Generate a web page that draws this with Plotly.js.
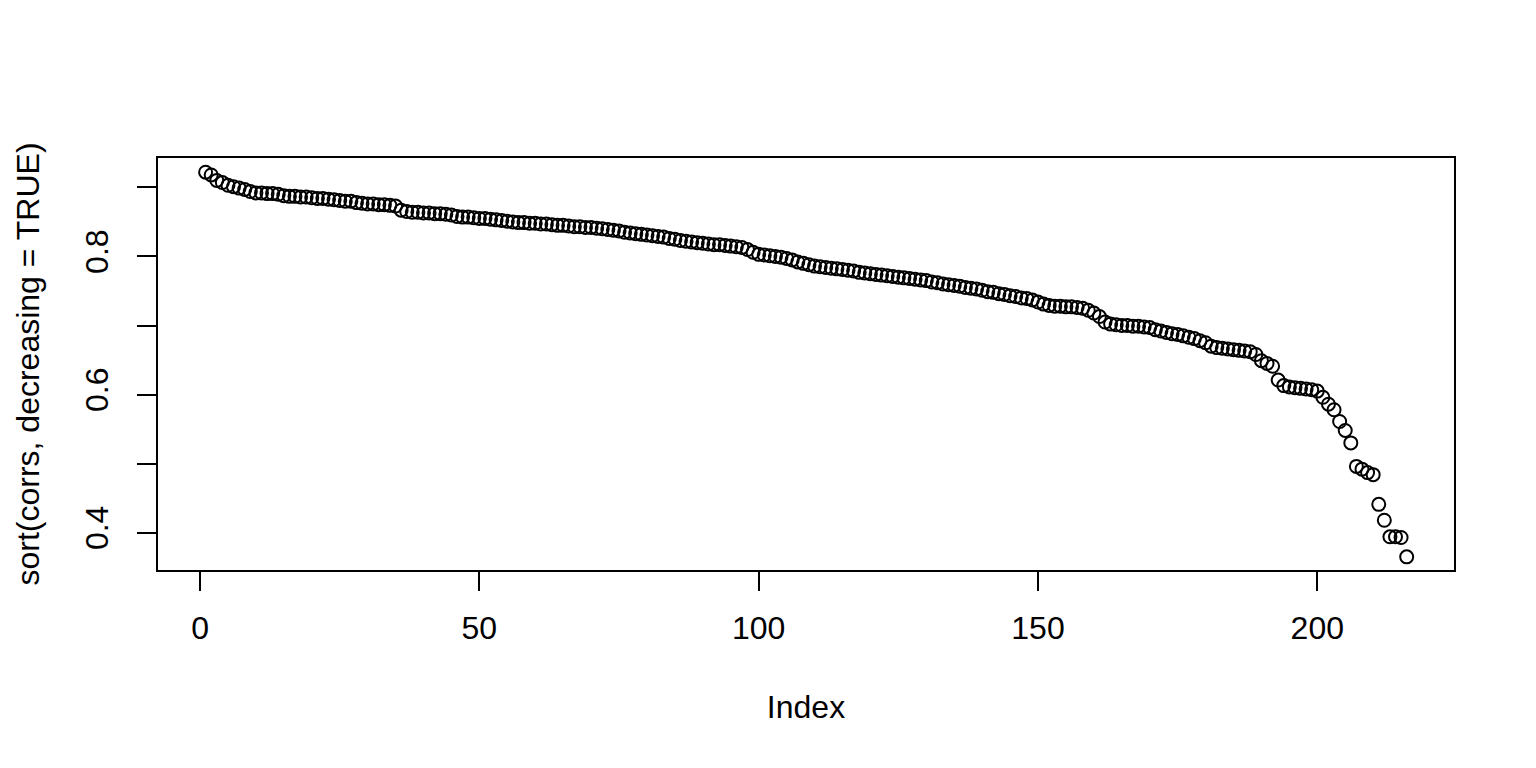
<!DOCTYPE html>
<html>
<head>
<meta charset="utf-8">
<script src="https://cdn.plot.ly/plotly-3.0.1.min.js"></script>
<style>html,body{margin:0;padding:0;background:#fff;}#chart{width:1536px;height:768px;}</style>
</head>
<body>
<div id="chart"></div>
<script>
// sorted correlations (decreasing)
const corrs = [
  0.922, 0.918, 0.910, 0.907, 0.903, 0.901, 0.899, 0.897, 0.894,
  0.892, 0.892, 0.891, 0.891, 0.890,
  0.888, 0.887, 0.887, 0.886, 0.886, 0.885,
  0.884, 0.884, 0.883, 0.882, 0.881, 0.880, 0.880,
  0.878, 0.877, 0.876, 0.876, 0.875, 0.875, 0.874, 0.873,
  0.867,
  0.865, 0.864, 0.864, 0.863, 0.863, 0.862, 0.862, 0.861, 0.860,
  0.858, 0.857, 0.857, 0.856, 0.855, 0.855, 0.854, 0.853, 0.852, 0.851,
  0.850, 0.849, 0.849, 0.848, 0.848, 0.847, 0.847, 0.846, 0.845, 0.845,
  0.844, 0.843, 0.843, 0.842, 0.842, 0.841, 0.840, 0.839, 0.838, 0.837,
  0.835, 0.834, 0.833, 0.832, 0.831, 0.830, 0.829, 0.828, 0.826, 0.825,
  0.823, 0.822, 0.821, 0.820, 0.819, 0.818, 0.817, 0.817, 0.816, 0.815, 0.814, 0.813,
  0.810, 0.806, 0.803,
  0.802, 0.801, 0.800, 0.799, 0.797,
  0.795, 0.792, 0.790, 0.788, 0.786,
  0.785, 0.784, 0.783, 0.782, 0.781, 0.780, 0.779,
  0.777, 0.776, 0.775, 0.774, 0.773, 0.772, 0.771, 0.770, 0.769, 0.768, 0.767, 0.766, 0.765,
  0.763, 0.762, 0.760, 0.759, 0.758, 0.757, 0.755, 0.754, 0.753, 0.751,
  0.749, 0.748, 0.746, 0.745, 0.743, 0.742, 0.740, 0.739, 0.737, 0.734,
  0.731, 0.729, 0.728, 0.728, 0.727, 0.727, 0.726, 0.725,
  0.722, 0.718, 0.713,
  0.705, 0.702, 0.701, 0.700, 0.700, 0.699, 0.699, 0.698, 0.697,
  0.694, 0.692, 0.690, 0.688, 0.687, 0.685, 0.683, 0.681, 0.678, 0.675,
  0.670, 0.668, 0.667, 0.666, 0.665, 0.664, 0.663, 0.662,
  0.658, 0.649, 0.645, 0.641,
  0.621,
  0.613, 0.611, 0.610, 0.609, 0.608, 0.607, 0.605,
  0.596, 0.586, 0.578, 0.561, 0.548, 0.530,
  0.496, 0.492, 0.487, 0.484,
  0.441, 0.418, 0.394, 0.394, 0.393, 0.365
];
const index = corrs.map((_, i) => i + 1);

const xTickVals = [0, 50, 100, 150, 200];
const xTickText = ["0", "50", "100", "150", "200"];
const yTickVals = [0.4, 0.5, 0.6, 0.7, 0.8, 0.9];
const yTickText = ["0.4", "", "0.6", "", "0.8", ""];

const xTitle = "Index";
const yTitle = "sort(corrs, decreasing = TRUE)";

const font = "Liberation Sans, Arial, Helvetica, sans-serif";
const fs = 32;

const trace = {
  x: index,
  y: corrs,
  type: "scatter",
  mode: "markers",
  marker: {
    symbol: "circle-open",
    size: 13,
    color: "#000",
    line: { color: "#000", width: 2 }
  },
  hoverinfo: "x+y"
};

const layout = {
  width: 1536,
  height: 768,
  margin: { l: 157, r: 81, t: 157, b: 197, pad: 0 },
  paper_bgcolor: "#fff",
  plot_bgcolor: "#fff",
  showlegend: false,
  font: { family: font, size: fs, color: "#000" },
  xaxis: {
    range: [-7.7, 224.65],
    tickmode: "array",
    tickvals: xTickVals,
    ticktext: xTickText,
    ticks: "outside",
    ticklen: 19,
    tickwidth: 2,
    tickcolor: "#000",
    showgrid: false,
    zeroline: false,
    showline: false,
    ticklabelstandoff: 10,
    tickfont: { family: font, size: fs, color: "#000" },
    title: { text: xTitle, font: { family: font, size: fs, color: "#000" }, standoff: 50 },
    automargin: false,
    fixedrange: true
  },
  yaxis: {
    range: [0.3445, 0.944],
    tickmode: "array",
    tickvals: yTickVals,
    ticktext: yTickText,
    ticks: "outside",
    ticklen: 19,
    tickwidth: 2,
    tickcolor: "#000",
    tickangle: -90,
    showgrid: false,
    zeroline: false,
    showline: false,
    ticklabelstandoff: 16,
    tickfont: { family: font, size: fs, color: "#000" },
    title: { text: yTitle, font: { family: font, size: fs, color: "#000" }, standoff: 30 },
    automargin: false,
    fixedrange: true
  },
  shapes: [{
    type: "rect", xref: "paper", yref: "paper",
    x0: 0, x1: 1, y0: 0, y1: 1,
    line: { color: "#000", width: 2 },
    fillcolor: "rgba(0,0,0,0)"
  }]
};

Plotly.newPlot("chart", [trace], layout, { displayModeBar: false, staticPlot: true });
</script>
</body>
</html>
